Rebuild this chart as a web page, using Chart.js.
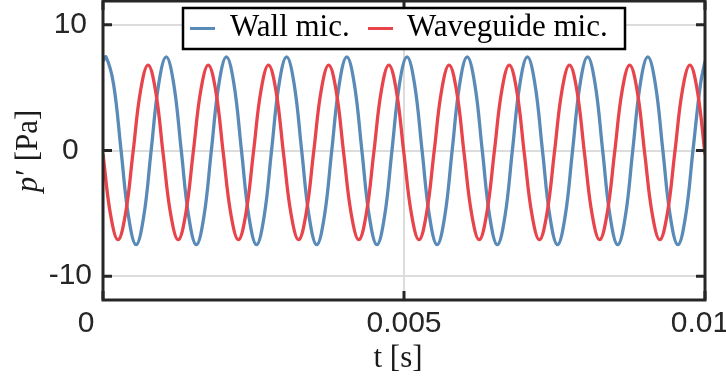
<!DOCTYPE html>
<html>
<head>
<meta charset="utf-8">
<script src="https://cdn.jsdelivr.net/npm/chart.js@4/dist/chart.umd.min.js"></script>
<style>
html,body{margin:0;padding:0;background:#fff;overflow:hidden}
#wrap{width:726px;height:382px;position:relative}
</style>
</head>
<body>
<div id="wrap"><canvas id="c" width="726" height="382"></canvas></div>
<script>
// ---- data ----
const seriesLabels = ["Wall mic.", "Waveguide mic."];
const xAxisTitle = "t [s]";
const yAxisTitleItalic = "p";
const yAxisTitleRest = "\u2032 [Pa]";

const xTickValues = [0, 0.005, 0.01];
const xTickLabels = ["0", "0.005", "0.01"];
const yTickValues = [-10, 0, 10];
const yTickLabels = ["-10", "0", "10"];
const xLimits = [0, 0.01];
const yLimits = [-11.9, 11.9];

// Wall microphone (blue)
const tWall = [0,
  0.00005,0.000175,0.0003,0.000425,0.00055,0.000675,0.0008,0.000925,
  0.00105,0.001175,0.0013,0.001425,0.00155,0.001675,0.0018,0.001925,
  0.00205,0.002175,0.0023,0.002425,0.00255,0.002675,0.0028,0.002925,
  0.00305,0.003175,0.0033,0.003425,0.00355,0.003675,0.0038,0.003925,
  0.00405,0.004175,0.0043,0.004425,0.00455,0.004675,0.0048,0.004925,
  0.00505,0.005175,0.0053,0.005425,0.00555,0.005675,0.0058,0.005925,
  0.00605,0.006175,0.0063,0.006425,0.00655,0.006675,0.0068,0.006925,
  0.00705,0.007175,0.0073,0.007425,0.00755,0.007675,0.0078,0.007925,
  0.00805,0.008175,0.0083,0.008425,0.00855,0.008675,0.0088,0.008925,
  0.00905,0.009175,0.0093,0.009425,0.00955,0.009675,0.0098,0.009925,
  0.01];
const pWall = [7.1,
  7.45,5.3,0.0,-5.3,-7.5,-5.3,0.0,5.3,
  7.45,5.3,0.0,-5.3,-7.5,-5.3,0.0,5.3,
  7.45,5.3,0.0,-5.3,-7.5,-5.3,0.0,5.3,
  7.45,5.3,0.0,-5.3,-7.5,-5.3,0.0,5.3,
  7.45,5.3,0.0,-5.3,-7.5,-5.3,0.0,5.3,
  7.45,5.3,0.0,-5.3,-7.5,-5.3,0.0,5.3,
  7.45,5.3,0.0,-5.3,-7.5,-5.3,0.0,5.3,
  7.45,5.3,0.0,-5.3,-7.5,-5.3,0.0,5.3,
  7.45,5.3,0.0,-5.3,-7.5,-5.3,0.0,5.3,
  7.45,5.3,0.0,-5.3,-7.5,-5.3,0.0,5.3,
  7.1];

// Waveguide microphone (red)
const tWaveguide = [
  0,0.000125,0.00025,0.000375,0.0005,0.000625,0.00075,0.000875,
  0.001,0.001125,0.00125,0.001375,0.0015,0.001625,0.00175,0.001875,
  0.002,0.002125,0.00225,0.002375,0.0025,0.002625,0.00275,0.002875,
  0.003,0.003125,0.00325,0.003375,0.0035,0.003625,0.00375,0.003875,
  0.004,0.004125,0.00425,0.004375,0.0045,0.004625,0.00475,0.004875,
  0.005,0.005125,0.00525,0.005375,0.0055,0.005625,0.00575,0.005875,
  0.006,0.006125,0.00625,0.006375,0.0065,0.006625,0.00675,0.006875,
  0.007,0.007125,0.00725,0.007375,0.0075,0.007625,0.00775,0.007875,
  0.008,0.008125,0.00825,0.008375,0.0085,0.008625,0.00875,0.008875,
  0.009,0.009125,0.00925,0.009375,0.0095,0.009625,0.00975,0.009875,
  0.01];
const pWaveguide = [
  -0.3,-5.1,-7.1,-5.0,-0.1,4.8,6.8,4.7,
  -0.3,-5.1,-7.1,-5.0,-0.1,4.8,6.8,4.7,
  -0.3,-5.1,-7.1,-5.0,-0.1,4.8,6.8,4.7,
  -0.3,-5.1,-7.1,-5.0,-0.1,4.8,6.8,4.7,
  -0.3,-5.1,-7.1,-5.0,-0.1,4.8,6.8,4.7,
  -0.3,-5.1,-7.1,-5.0,-0.1,4.8,6.8,4.7,
  -0.3,-5.1,-7.1,-5.0,-0.1,4.8,6.8,4.7,
  -0.3,-5.1,-7.1,-5.0,-0.1,4.8,6.8,4.7,
  -0.3,-5.1,-7.1,-5.0,-0.1,4.8,6.8,4.7,
  -0.3,-5.1,-7.1,-5.0,-0.1,4.8,6.8,4.7,
  -0.3];

// ---- styles ----
const BLUE = '#5a8bb8';
const RED = '#e8444b';
const AXIS = '#262626';
const GRID = '#dcdcdc';
const SANS = '"Liberation Sans", Arial, sans-serif';
const SERIF = '"Liberation Serif", "Times New Roman", serif';
const xTickLabelShift = [-17, 0, -5];

const toPoints = (t, p) => t.map((x, i) => ({x: x, y: p[i]}));

const decorPlugin = {
  id: 'decor',
  afterDraw(chart) {
    const ctx = chart.ctx;
    const {left, right, top, bottom} = chart.chartArea;
    const xs = chart.scales.x, ys = chart.scales.y;
    ctx.save();
    // frame
    ctx.strokeStyle = AXIS;
    ctx.lineWidth = 3;
    ctx.strokeRect(left, top, right - left, bottom - top);
    // inward ticks
    ctx.lineWidth = 3;
    ctx.beginPath();
    yTickValues.forEach(v => {
      const y = ys.getPixelForValue(v);
      ctx.moveTo(left, y); ctx.lineTo(left + 9, y);
      ctx.moveTo(right - 9, y); ctx.lineTo(right, y);
    });
    xTickValues.forEach(v => {
      const x = xs.getPixelForValue(v);
      ctx.moveTo(x, bottom); ctx.lineTo(x, bottom - 9);
      ctx.moveTo(x, top); ctx.lineTo(x, top + 9);
    });
    ctx.stroke();
    // x tick labels
    ctx.fillStyle = AXIS;
    ctx.font = '30px ' + SANS;
    ctx.textAlign = 'center';
    ctx.textBaseline = 'alphabetic';
    xTickValues.forEach((v, i) => {
      ctx.fillText(xTickLabels[i], xs.getPixelForValue(v) + xTickLabelShift[i], 332);
    });
    // axis titles
    ctx.fillStyle = '#1a1a1a';
    ctx.font = '31px ' + SERIF;
    ctx.fillText(xAxisTitle, 398, 367);
    ctx.save();
    ctx.translate(37, 151.5);
    ctx.rotate(-Math.PI / 2);
    ctx.textAlign = 'left';
    ctx.font = 'italic 31px ' + SERIF;
    const w1 = ctx.measureText(yAxisTitleItalic).width;
    ctx.font = '31px ' + SERIF;
    const w2 = ctx.measureText(yAxisTitleRest).width;
    const x0 = -(w1 + w2) / 2;
    ctx.font = 'italic 31px ' + SERIF;
    ctx.fillText(yAxisTitleItalic, x0, 0);
    ctx.font = '31px ' + SERIF;
    ctx.fillText(yAxisTitleRest, x0 + w1 + 1, 0);
    ctx.restore();
    // legend
    const lx = 183, ly = 8, lw = 442, lh = 41;
    ctx.fillStyle = '#fff';
    ctx.fillRect(lx, ly, lw, lh);
    ctx.strokeStyle = '#000';
    ctx.lineWidth = 2.5;
    ctx.strokeRect(lx, ly, lw, lh);
    const ds = chart.data.datasets;
    const entries = [{x1: 190, x2: 215, tx: 230}, {x1: 368, x2: 393, tx: 407}];
    ctx.font = '31px ' + SERIF;
    ctx.textAlign = 'left';
    entries.forEach((e, i) => {
      ctx.strokeStyle = ds[i].borderColor;
      ctx.lineWidth = 3;
      ctx.beginPath();
      ctx.moveTo(e.x1, 28.5); ctx.lineTo(e.x2, 28.5);
      ctx.stroke();
      ctx.fillStyle = '#000';
      ctx.fillText(ds[i].label, e.tx, 36);
    });
    ctx.restore();
  }
};

new Chart(document.getElementById('c'), {
  type: 'line',
  data: {
    datasets: [
      {label: seriesLabels[0], data: toPoints(tWall, pWall), borderColor: BLUE, backgroundColor: BLUE,
       borderWidth: 3.3, pointRadius: 0, tension: 0.4, fill: false, order: 1, clip: 0},
      {label: seriesLabels[1], data: toPoints(tWaveguide, pWaveguide), borderColor: RED, backgroundColor: RED,
       borderWidth: 3.3, pointRadius: 0, tension: 0.4, fill: false, order: 0, clip: 0}
    ]
  },
  options: {
    responsive: false,
    animation: false,
    devicePixelRatio: 1,
    layout: {padding: {top: 1, right: 21, left: 0, bottom: 0}},
    plugins: {legend: {display: false}, tooltip: {enabled: false}},
    scales: {
      x: {
        type: 'linear', min: xLimits[0], max: xLimits[1],
        afterBuildTicks: s => { s.ticks = xTickValues.map(v => ({value: v})); },
        ticks: {display: false},
        grid: {color: GRID, lineWidth: 2, drawTicks: false},
        border: {display: false},
        afterFit: s => { s.height = 82; s.paddingLeft = 0; s.paddingRight = 0; }
      },
      y: {
        type: 'linear', min: yLimits[0], max: yLimits[1],
        afterBuildTicks: s => { s.ticks = yTickValues.map(v => ({value: v})); },
        ticks: {
          font: {family: SANS, size: 30}, color: AXIS, padding: 11, crossAlign: 'center',
          callback: v => yTickLabels[yTickValues.indexOf(v)]
        },
        grid: {color: GRID, lineWidth: 2, drawTicks: false},
        border: {display: false},
        afterFit: s => { s.width = 103; s.paddingTop = 0; s.paddingBottom = 0; }
      }
    }
  },
  plugins: [decorPlugin]
});
</script>
</body>
</html>
